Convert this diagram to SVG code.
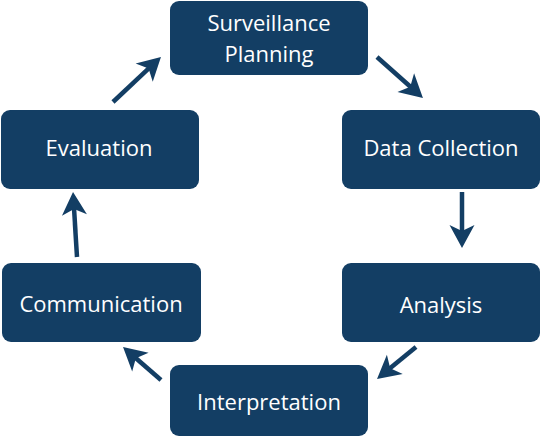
<svg xmlns="http://www.w3.org/2000/svg" width="541" height="436" viewBox="0 0 541 436">
<style>
.box{fill:#133E64}
.lbl{fill:#ffffff;font-family:"Open Sans","Noto Sans","DejaVu Sans",sans-serif;font-size:22px;text-anchor:middle}
.arr{stroke:#133E64;stroke-width:4.5;fill:none;marker-end:url(#head)}
</style>
<defs>
<marker id="head" markerUnits="userSpaceOnUse" markerWidth="30" markerHeight="30" refX="0" refY="0" orient="auto" overflow="visible">
<path d="M16,0 L-7,-12.5 L-1,0 L-7,12.5 Z" fill="#133E64"/>
</marker>
</defs>
<rect width="541" height="436" fill="#ffffff"/>
<g id="connectors">
<line class="arr" x1="377" y1="57" x2="411" y2="87.3"/>
<line class="arr" x1="462" y1="192" x2="462" y2="232"/>
<line class="arr" x1="416" y1="347" x2="389.4" y2="368.8"/>
<line class="arr" x1="161" y1="380" x2="135.1" y2="357.5"/>
<line class="arr" x1="77" y1="257" x2="74" y2="208"/>
<line class="arr" x1="113" y1="102" x2="149.3" y2="67.9"/>
</g>
<g id="surveillance-planning">
<rect class="box" x="170" y="1" width="198" height="74" rx="9"/>
<text class="lbl" x="269" y="31">Surveillance</text>
<text class="lbl" x="269" y="62">Planning</text>
</g>
<g id="data-collection">
<rect class="box" x="342" y="110" width="198" height="79" rx="9"/>
<text class="lbl" x="441" y="156">Data Collection</text>
</g>
<g id="analysis">
<rect class="box" x="342" y="263" width="198" height="79" rx="9"/>
<text class="lbl" x="441" y="313">Analysis</text>
</g>
<g id="interpretation">
<rect class="box" x="170" y="365" width="198" height="71" rx="9"/>
<text class="lbl" x="269" y="410">Interpretation</text>
</g>
<g id="communication">
<rect class="box" x="2" y="263" width="199" height="79" rx="9"/>
<text class="lbl" x="101" y="312">Communication</text>
</g>
<g id="evaluation">
<rect class="box" x="1" y="110" width="198" height="79" rx="9"/>
<text class="lbl" x="99" y="156">Evaluation</text>
</g>
</svg>
